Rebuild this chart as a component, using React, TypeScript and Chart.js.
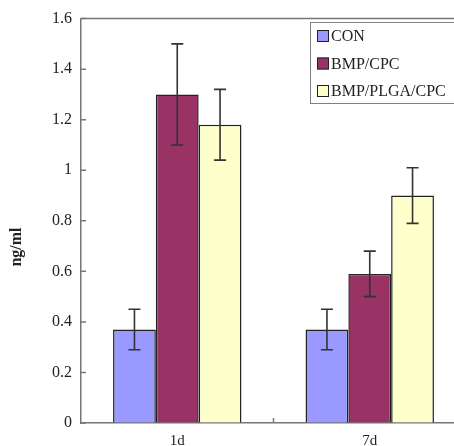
import React, { useEffect, useRef } from 'react';
import { Chart, registerables } from 'chart.js';

Chart.register(...registerables);

const categories = ['1d', '7d'];
const seriesNames = ['CON', 'BMP/CPC', 'BMP/PLGA/CPC'];
const conValues = [0.37, 0.37];
const conErrors = [0.08, 0.08];
const bmpCpcValues = [1.3, 0.59];
const bmpCpcErrors = [0.2, 0.09];
const plgaValues = [1.18, 0.9];
const plgaErrors = [0.14, 0.11];
const seriesColors = ['#9999ff', '#993366', '#ffffcc'];
const yTickValues = [0, 0.2, 0.4, 0.6, 0.8, 1, 1.2, 1.4, 1.6];
const yTickLabels = ['0', '0.2', '0.4', '0.6', '0.8', '1', '1.2', '1.4', '1.6'];
const yAxisTitle = 'ng/ml';

const seriesValues = [conValues, bmpCpcValues, plgaValues];
const seriesErrors = [conErrors, bmpCpcErrors, plgaErrors];

const FONT = '"Liberation Serif", "DejaVu Serif", serif';
const AXIS_COLOR = '#777777';

const errorBarPlugin = {
  id: 'errorBars',
  afterDatasetsDraw(chart: any) {
    const ctx = chart.ctx;
    const yScale = chart.scales.y;
    ctx.save();
    ctx.strokeStyle = '#333333';
    ctx.lineWidth = 1.6;
    chart.data.datasets.forEach((ds: any, i: number) => {
      const meta = chart.getDatasetMeta(i);
      const errs = seriesErrors[i];
      meta.data.forEach((bar: any, j: number) => {
        const v = ds.data[j];
        const e = errs[j];
        const x = bar.x;
        const yT = yScale.getPixelForValue(v + e);
        const yB = yScale.getPixelForValue(v - e);
        const cap = 6;
        ctx.beginPath();
        ctx.moveTo(x, yT);
        ctx.lineTo(x, yB);
        ctx.moveTo(x - cap, yT);
        ctx.lineTo(x + cap, yT);
        ctx.moveTo(x - cap, yB);
        ctx.lineTo(x + cap, yB);
        ctx.stroke();
      });
    });
    ctx.restore();
  },
};

const framePlugin = {
  id: 'frame',
  afterDraw(chart: any) {
    const ctx = chart.ctx;
    const { left, right, top, bottom } = chart.chartArea;
    const yScale = chart.scales.y;
    const xScale = chart.scales.x;
    ctx.save();
    ctx.strokeStyle = AXIS_COLOR;
    ctx.lineWidth = 1.5;
    ctx.beginPath();
    ctx.moveTo(left, top);
    ctx.lineTo(right + 20, top);
    ctx.stroke();
    ctx.beginPath();
    yTickValues.forEach((v) => {
      const y = yScale.getPixelForValue(v);
      ctx.moveTo(left, y);
      ctx.lineTo(left + 5, y);
    });
    const xs = categories.map((_, i) => xScale.getPixelForTick(i));
    for (let i = 0; i < xs.length - 1; i++) {
      const xm = (xs[i] + xs[i + 1]) / 2;
      ctx.moveTo(xm, bottom);
      ctx.lineTo(xm, bottom - 5);
    }
    ctx.stroke();

    ctx.fillStyle = '#222222';
    ctx.font = 'bold 16px ' + FONT;
    ctx.textAlign = 'center';
    ctx.textBaseline = 'middle';
    ctx.translate(17, 247);
    ctx.rotate(-Math.PI / 2);
    ctx.fillText(yAxisTitle, 0, 0);
    ctx.restore();

    ctx.save();
    const lx = 310;
    const ly = 22;
    ctx.fillStyle = '#ffffff';
    ctx.fillRect(lx, ly, 170, 81);
    ctx.strokeStyle = '#808080';
    ctx.lineWidth = 1;
    ctx.strokeRect(lx + 0.5, ly + 0.5, 170, 81);
    ctx.font = '16px ' + FONT;
    ctx.textAlign = 'left';
    ctx.textBaseline = 'middle';
    chart.data.datasets.forEach((ds: any, i: number) => {
      const cy = 36 + i * 27.5;
      ctx.fillStyle = ds.backgroundColor;
      ctx.fillRect(317, cy - 6, 12, 12);
      ctx.strokeStyle = '#222222';
      ctx.lineWidth = 1;
      ctx.strokeRect(317.5, cy - 5.5, 11, 11);
      ctx.fillStyle = '#222222';
      ctx.fillText(ds.label, 331, cy + 1);
    });
    ctx.restore();
  },
};

export default function App() {
  const canvasRef = useRef<HTMLCanvasElement | null>(null);

  useEffect(() => {
    if (!canvasRef.current) return;
    const chart = new Chart(canvasRef.current, {
      type: 'bar',
      data: {
        labels: categories,
        datasets: seriesNames.map((name, i) => ({
          label: name,
          data: seriesValues[i],
          backgroundColor: seriesColors[i],
          borderColor: '#222222',
          borderWidth: 1.5,
          categoryPercentage: 0.667,
          barPercentage: 1.0,
        })),
      },
      options: {
        animation: false,
        responsive: true,
        maintainAspectRatio: false,
        layout: { padding: { top: 15, right: 14, left: 0, bottom: 0 } },
        plugins: {
          legend: { display: false },
          tooltip: { enabled: false },
        },
        scales: {
          x: {
            grid: { display: true, drawOnChartArea: false, drawTicks: false },
            border: { display: true, color: AXIS_COLOR, width: 1.5 },
            ticks: {
              font: { family: FONT, size: 15 },
              color: '#222222',
              padding: 9,
            },
            afterFit: (scale: any) => {
              scale.height = 23;
            },
          },
          y: {
            min: 0,
            max: 1.6,
            afterBuildTicks: (scale: any) => {
              scale.ticks = yTickValues.map((v) => ({ value: v }));
            },
            grid: { display: true, drawOnChartArea: false, drawTicks: false },
            border: { display: true, color: AXIS_COLOR, width: 1.5 },
            ticks: {
              font: { family: FONT, size: 16 },
              color: '#222222',
              padding: 9,
              callback: (_v: any, idx: number) => yTickLabels[idx],
            },
            afterFit: (scale: any) => {
              scale.width = 81;
            },
          },
        },
      },
      plugins: [errorBarPlugin, framePlugin],
    });
    return () => chart.destroy();
  }, []);

  return (
    <div
      style={{
        position: 'fixed',
        left: 0,
        top: 0,
        width: 454,
        height: 446,
        overflow: 'hidden',
        background: '#ffffff',
      }}
    >
      <div style={{ position: 'relative', width: 480, height: 446 }}>
        <canvas ref={canvasRef} />
      </div>
    </div>
  );
}
